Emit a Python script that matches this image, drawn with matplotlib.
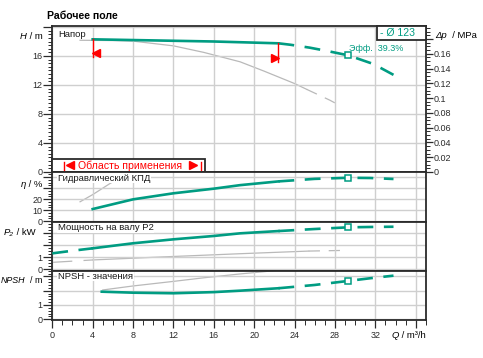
import matplotlib
matplotlib.use("Agg")
import matplotlib.pyplot as plt
from matplotlib.patches import Rectangle
from matplotlib.ticker import MultipleLocator, FuncFormatter

plt.rcParams['font.family'] = ['Liberation Sans', 'DejaVu Sans']

# duty point
q_duty = 29.3
eff_duty = 39.3

# head: pump curve (teal) and thin gray curve
q_head = [4, 8, 12, 16, 18.6, 22.4]
h_head = [18.3, 18.2, 18.1, 18.0, 17.9, 17.75]
q_head_ext = [22.4, 23.6, 25.5, 27.2, 29.3, 31.8, 33.8]
h_head_ext = [17.75, 17.55, 17.15, 16.7, 16.1, 14.9, 13.4]
q_head_g = [2.75, 6, 8, 12, 15, 18.6, 21, 24, 25.2]
h_head_g = [18.17, 18.13, 18.05, 17.4, 16.5, 15.2, 13.9, 12.2, 11.4]
q_head_g_ext = [25.2, 27.5, 28.3]
h_head_g_ext = [11.4, 9.9, 9.3]

# hydraulic efficiency
q_eta = [4, 8, 12, 16, 18.6, 22.4]
eta = [10.9, 19.7, 25.2, 29.4, 32.6, 36.0]
q_eta_ext = [22.4, 26, 29.3, 31.5, 33.8]
eta_ext = [36.0, 38.3, 39.3, 39.1, 38.2]
q_eta_g = [2.75, 4, 5.7, 7, 8]
eta_g = [17.5, 24, 34, 41, 46]

# shaft power P2
q_p_low = [0, 2, 4]
p_low = [1.33, 1.55, 1.75]
q_p = [4, 8, 12, 16, 18.6, 22.4]
p = [1.75, 2.17, 2.5, 2.78, 3.0, 3.19]
q_p_ext = [22.4, 26, 29.3, 31.5, 33.8]
p_ext = [3.19, 3.36, 3.5, 3.53, 3.55]
q_p_g_low = [0, 2, 4]
p_g_low = [0.58, 0.68, 0.78]
q_p_g = [4, 10, 18.6, 25.4]
p_g = [0.78, 1.0, 1.3, 1.52]
q_p_g_ext = [25.4, 28.5]
p_g_ext = [1.52, 1.57]

# NPSH
q_npsh = [4.9, 8, 12, 16, 18.6, 22.4]
npsh = [1.93, 1.86, 1.82, 1.9, 2.0, 2.17]
q_npsh_ext = [22.4, 26, 29.3, 31.5, 33.8]
npsh_ext = [2.17, 2.4, 2.68, 2.87, 3.05]
q_npsh_g = [5, 8, 12, 15, 18.6, 21, 23]
npsh_g = [2.05, 2.33, 2.65, 2.9, 3.17, 3.33, 3.48]

teal = '#009c82'
gray = '#b9b9b9'
dark = '#2b2b2b'
fs = 6.5

fig = plt.figure(figsize=(4.83, 3.58), dpi=100)
L, W = 0.1083, 0.7737
ax_h = fig.add_axes([L, 0.5182, W, 0.4092])
ax_eta = fig.add_axes([L, 0.3804, W, 0.1378])
ax_p = fig.add_axes([L, 0.2444, W, 0.1360])
ax_npsh = fig.add_axes([L, 0.1061, W, 0.1383])


def labels_only(vals):
    def f(v, pos):
        for s in vals:
            if abs(v - s) < 1e-6:
                return '%g' % s
        return ''
    return FuncFormatter(f)


def style(ax, ylim, major, minor, shown):
    ax.set_xlim(0, 37.02)
    ax.set_ylim(*ylim)
    ax.xaxis.set_major_locator(MultipleLocator(4))
    ax.xaxis.set_minor_locator(MultipleLocator(1))
    ax.yaxis.set_major_locator(MultipleLocator(major))
    ax.yaxis.set_minor_locator(MultipleLocator(minor))
    ax.yaxis.set_major_formatter(labels_only(shown))
    ax.grid(True, which='major', color='#cfcfcf', lw=1.0, zorder=0)
    ax.tick_params(axis='y', which='major', direction='out', length=6.5, width=0.9,
                   labelsize=fs, pad=0.5, colors=dark)
    ax.tick_params(axis='y', which='minor', direction='out', length=3, width=0.7, colors=dark)
    ax.tick_params(axis='x', which='both', length=0, labelbottom=False)
    for s in ax.spines.values():
        s.set_color(dark)
        s.set_linewidth(1.3)
        s.set_zorder(2.5)


style(ax_h, (-0.07, 20.14), 4, 0.5, [0, 4, 8, 12, 16])
style(ax_eta, (-0.7, 44.1), 10, 2.5, [0, 10, 20])
style(ax_p, (-0.1, 3.96), 1, 0.25, [0, 1])
style(ax_npsh, (-0.05, 3.41), 1, 0.2, [0, 1])

ax_npsh.tick_params(axis='x', which='major', length=6, width=0.9, labelbottom=True,
                    labelsize=fs, pad=2, colors=dark)
ax_npsh.tick_params(axis='x', which='minor', length=3.5, width=0.7, colors=dark)
ax_npsh.xaxis.set_major_formatter(labels_only([0, 4, 8, 12, 16, 20, 24, 28, 32]))

tdash = (6, 4)
lw_t = 1.9
lw_g = 0.9

# head
ax_h.plot(q_head, h_head, color=teal, lw=lw_t, zorder=4)
ax_h.plot(q_head_ext, h_head_ext, color=teal, lw=lw_t, dashes=tdash, zorder=4)
ax_h.plot(q_head_g, h_head_g, color=gray, lw=lw_g, zorder=1.5)
ax_h.plot(q_head_g_ext, h_head_g_ext, color=gray, lw=lw_g, dashes=(9, 7), zorder=1.5)

# efficiency
ax_eta.plot(q_eta, eta, color=teal, lw=lw_t, zorder=4)
ax_eta.plot(q_eta_ext, eta_ext, color=teal, lw=lw_t, dashes=tdash, zorder=4)
ax_eta.plot(q_eta_g, eta_g, color=gray, lw=lw_g, zorder=1.5)

# power
ax_p.plot(q_p_low, p_low, color=teal, lw=lw_t, dashes=tdash, zorder=4)
ax_p.plot(q_p, p, color=teal, lw=lw_t, zorder=4)
ax_p.plot(q_p_ext, p_ext, color=teal, lw=lw_t, dashes=tdash, zorder=4)
ax_p.plot(q_p_g_low, p_g_low, color=gray, lw=lw_g, dashes=(16, 9), zorder=1.5)
ax_p.plot(q_p_g, p_g, color=gray, lw=lw_g, zorder=1.5)
ax_p.plot(q_p_g_ext, p_g_ext, color=gray, lw=lw_g, dashes=(9, 7), zorder=1.5)

# npsh
ax_npsh.plot(q_npsh, npsh, color=teal, lw=lw_t, zorder=4)
ax_npsh.plot(q_npsh_ext, npsh_ext, color=teal, lw=lw_t, dashes=tdash, zorder=4)
ax_npsh.plot(q_npsh_g, npsh_g, color=gray, lw=lw_g, zorder=1.5)

# duty point markers
for ax, qq, yy in [(ax_h, q_head_ext, h_head_ext), (ax_eta, q_eta_ext, eta_ext),
                   (ax_p, q_p_ext, p_ext), (ax_npsh, q_npsh_ext, npsh_ext)]:
    y_d = yy[qq.index(q_duty)]
    ax.plot([q_duty], [y_d], 's', ms=4.2, mfc='white', mec=teal, mew=1.1, zorder=6)

# panel names (white box hides the gray curves, stays under the frame)
names = [(ax_h, 'Напор'), (ax_eta, 'Гидравлический КПД'),
         (ax_p, 'Мощность на валу P2'), (ax_npsh, 'NPSH - значения')]
for ax, n in names:
    ax.text(0.015, 0.975, n, transform=ax.transAxes, fontsize=fs + 0.3, color='#1a1a1a',
            va='top', ha='left', zorder=2,
            bbox=dict(facecolor='white', edgecolor='none', pad=0.5))

# application range markers
ax_h.plot([q_head[0], q_head[0]], [h_head[0], 15.9], color='red', lw=1.0, zorder=5)
ax_h.plot([q_head[0] + 0.35], [16.35], marker='<', color='red', ms=5.5, zorder=5)
ax_h.plot([q_head[-1], q_head[-1]], [h_head[-1], 15.2], color='red', lw=1.0, zorder=5)
ax_h.plot([q_head[-1] - 0.35], [15.75], marker='>', color='red', ms=5.5, zorder=5)

# application range box
ax_h.add_patch(Rectangle((0, -0.07), 15.1, 1.9, facecolor='white', edgecolor=dark,
                         lw=1.3, zorder=6, clip_on=False))
ax_h.text(7.73, 0.9, 'Область применения', color='red', fontsize=7.6,
          ha='center', va='center', zorder=7)
ax_h.plot([1.75], [0.9], marker='<', color='red', ms=5.2, zorder=7)
ax_h.plot([13.9], [0.9], marker='>', color='red', ms=5.2, zorder=7)
ax_h.plot([1.16, 1.16], [0.1, 1.35], color='red', lw=1.0, zorder=7)
ax_h.plot([14.73, 14.73], [0.1, 1.35], color='red', lw=1.0, zorder=7)

# legend box
ax_h.add_patch(Rectangle((0.8697, 0.9044), 0.1303, 0.0956, transform=ax_h.transAxes,
                         facecolor='white', edgecolor=dark, lw=1.3, zorder=6, clip_on=False))
ax_h.text(0.877, 0.952, '- Ø 123', transform=ax_h.transAxes, color=teal, fontsize=7.6,
          ha='left', va='center', zorder=7)
ax_h.text(q_duty + 0.1, 17.0, 'Эфф.  %.1f%%' % eff_duty, color=teal, fontsize=fs,
          ha='left', va='center', zorder=7)

# right axis: differential pressure
ax_dp = ax_h.twinx()
h0, h1 = ax_h.get_ylim()
ax_dp.set_ylim(h0 * 0.00981, h1 * 0.00981)
ax_dp.yaxis.set_major_locator(MultipleLocator(0.02))
ax_dp.yaxis.set_minor_locator(MultipleLocator(0.005))
ax_dp.yaxis.set_major_formatter(labels_only([0, 0.02, 0.04, 0.06, 0.08, 0.1, 0.12, 0.14, 0.16]))
ax_dp.tick_params(axis='y', which='major', direction='out', length=5, width=0.9,
                  labelsize=fs, pad=0.5, colors=dark)
ax_dp.tick_params(axis='y', which='minor', direction='out', length=3, width=0.7, colors=dark)
for s in ax_dp.spines.values():
    s.set_visible(False)


def axis_caption(x, y, ital, rest, ha='right', size=fs + 0.3):
    # italic symbol followed by plain unit, bottoms aligned
    if ha == 'right':
        t = fig.text(x, y, rest, fontsize=size, ha='right', va='bottom')
        fig.add_artist(plt.Annotation(ital, xy=(0, 0), xycoords=t, fontsize=size,
                                      style='italic', ha='right', va='bottom'))
    else:
        t = fig.text(x, y, ital, fontsize=size, style='italic', ha='left', va='bottom')
        fig.add_artist(plt.Annotation(rest, xy=(1, 0), xycoords=t, fontsize=size,
                                      ha='left', va='bottom'))


fig.text(0.0973, 0.955, 'Рабочее поле', fontsize=7.6, fontweight='bold', ha='left', va='center')
axis_caption(0.0876, 0.885, 'H', ' / m')
axis_caption(0.0884, 0.473, 'η', ' / %')
axis_caption(0.073, 0.338, 'P₂', ' / kW')
axis_caption(0.0876, 0.204, 'NPSH', '  / m', size=6.4)
axis_caption(0.9006, 0.888, 'Δp', '  / MPa', ha='left')
axis_caption(0.882, 0.051, 'Q', ' / m³/h')

fig.savefig('out.png', dpi=100)
